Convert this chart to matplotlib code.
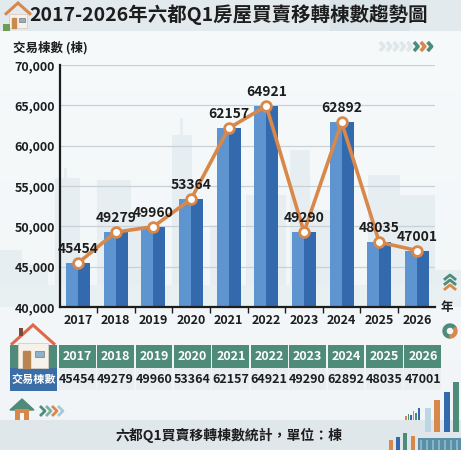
import matplotlib.pyplot as plt
from matplotlib.patches import Rectangle, Polygon, Wedge
from matplotlib.ticker import FuncFormatter, FixedLocator
import numpy as np

# --- données ---
years = ['2017', '2018', '2019', '2020', '2021', '2022', '2023', '2024', '2025', '2026']
counts = [45454, 49279, 49960, 53364, 62157, 64921, 49290, 62892, 48035, 47001]
y_ticks = [40000, 45000, 50000, 55000, 60000, 65000, 70000]

title = '2017-2026年六都Q1房屋買賣移轉棟數趨勢圖'
y_title = '交易棟數 (棟)'
x_unit = '年'
row_label = '交易棟數'
footer = '六都Q1買賣移轉棟數統計，單位：棟'

# couleurs
bar_light = '#5e95d0'
bar_dark = '#336aae'
orange = '#d8884a'
green = '#4e8c79'
blue_cell = '#3b6ea6'
txt = '#1d1d1d'
fam = ['Noto Sans CJK TC', 'DejaVu Sans']
plt.rcParams['font.family'] = fam

W, H = 461, 450
fig = plt.figure(figsize=(W / 100, H / 100), dpi=100)

# --- fond (coordonnées en pixels) ---
bg = fig.add_axes([0, 0, 1, 1], zorder=0)
bg.set_xlim(0, W)
bg.set_ylim(H, 0)
bg.axis('off')
grad = np.linspace(0, 1, 200).reshape(-1, 1)
bg.imshow(grad, cmap=plt.matplotlib.colors.LinearSegmentedColormap.from_list('g', ['#f7fafb', '#f1f5f7']),
          extent=[0, W, H, 0], aspect='auto', zorder=0)

# silhouettes de la ville
sky = '#e6eef1'
buildings = [(0, 250, 22), (18, 265, 30), (55, 178, 25), (97, 180, 34), (130, 215, 20),
             (172, 135, 20), (210, 225, 25), (246, 195, 40), (290, 150, 20), (305, 210, 30),
             (333, 250, 20), (368, 175, 32), (400, 195, 35), (435, 270, 26)]
for bx, by, bw in buildings:
    bg.add_patch(Rectangle((bx, by), bw, 307 - by, color=sky, zorder=1, lw=0))
bg.add_patch(Rectangle((180, 118), 3, 20, color=sky, zorder=1, lw=0))
bg.add_patch(Rectangle((64, 168), 3, 12, color=sky, zorder=1, lw=0))
bg.add_patch(Rectangle((0, 285), W, 22, color='#e8f0f1', zorder=1, lw=0))

# bandeau titre
bg.add_patch(Rectangle((0, 0), W, 31, color='#e3eaee', zorder=2, lw=0))
bg.add_patch(Rectangle((330, 0), 80, 31, color='#d9e3e8', zorder=2, lw=0))
bg.text(229, 15, title, ha='center', va='center', fontsize=14, fontweight='bold',
        color=txt, zorder=5)

def maison(x0, y0, s, roof=orange, door='#c98a4b', zorder=5):
    # petite maison dessinée: toit, murs, porte, fenêtre
    bg.add_patch(Polygon([(x0, y0 + 0.45 * s), (x0 + 0.5 * s, y0), (x0 + s, y0 + 0.45 * s)],
                         closed=False, fill=False, ec=roof, lw=2.2, zorder=zorder))
    bg.add_patch(Rectangle((x0 + 0.15 * s, y0 + 0.42 * s), 0.7 * s, 0.55 * s, color='#f6f1ea',
                           ec='#d8cfc4', lw=0.6, zorder=zorder - 1))
    bg.add_patch(Rectangle((x0 + 0.28 * s, y0 + 0.58 * s), 0.16 * s, 0.39 * s, color=door, zorder=zorder))
    bg.add_patch(Rectangle((x0 + 0.55 * s, y0 + 0.58 * s), 0.2 * s, 0.15 * s, color='#8fb0c9',
                           ec='#777777', lw=0.5, zorder=zorder))

maison(5, 3, 26)
bg.add_patch(Rectangle((3, 24), 7, 7, color='#6a9e58', zorder=4, lw=0))

# chevrons en haut à droite
chev_cols = ['#dfe7ea'] * 5 + [green, orange, green]
for i, c in enumerate(chev_cols):
    cx = 380 + i * 6.8
    bg.plot([cx, cx + 4, cx], [42, 46.5, 51], color=c, lw=2.6, solid_capstyle='butt', zorder=5)

# chevrons vers le haut (droite)
for i, c in enumerate([green, green, orange]):
    cy = 155 + i * 5 + 120
    bg.plot([445, 450, 455], [cy + 4, cy, cy + 4], color=c, lw=2, zorder=5)
bg.add_patch(Wedge((450, 331), 7, 90, 330, width=3, color=green, zorder=5))
bg.add_patch(Wedge((450, 331), 7, 330, 450, width=3, color=orange, zorder=5))

# --- graphique principal ---
ax = fig.add_axes([60 / W, 1 - 307 / H, 375 / W, 242 / H], zorder=2)
ax.patch.set_alpha(0)
x = np.arange(len(years))
ax.bar(x, counts, width=0.64, color=bar_light, zorder=2)
ax.bar(x + 0.16, counts, width=0.32, color=bar_dark, zorder=2)
ax.plot(x, counts, color=orange, lw=2.6, marker='o', ms=7, mfc='white', mec=orange,
        mew=2, zorder=3)
for i, v in enumerate(counts):
    ax.annotate(str(v), (i, v), xytext=(0, 5), textcoords='offset points', ha='center',
                va='bottom', fontsize=10, fontweight='bold', color=txt, zorder=4)

ax.set_xlim(-0.48, len(years) - 0.52)
ax.set_ylim(40000, 70000)
ax.set_yticks(y_ticks)
ax.yaxis.set_major_formatter(FuncFormatter(lambda v, p: f'{int(v):,}'))
ax.set_xticks(x)
ax.set_xticklabels(years)
ax.xaxis.set_minor_locator(FixedLocator(x[:-1] + 0.5))
ax.tick_params(axis='both', which='major', length=0, labelsize=9, labelcolor=txt)
ax.tick_params(axis='x', which='major', pad=5)
ax.tick_params(axis='x', which='minor', length=4, width=1, color=txt, direction='out')
for lab in ax.get_xticklabels() + ax.get_yticklabels():
    lab.set_fontweight('bold')
ax.grid(axis='y', color='#c9d1d6', lw=0.9, zorder=0)
ax.set_axisbelow(True)
for s in ['top', 'right']:
    ax.spines[s].set_visible(False)
for s in ['left', 'bottom']:
    ax.spines[s].set_color(txt)
    ax.spines[s].set_linewidth(1.6)
    ax.spines[s].set_zorder(5)

bg.text(13, 48, y_title, ha='left', va='center', fontsize=9, fontweight='bold', color=txt, zorder=5)
bg.text(447, 307, x_unit, ha='center', va='center', fontsize=9, fontweight='bold', color=txt, zorder=5)

# --- tableau ---
col0, colw = 58, 38.4
r1, r2, r3 = 345, 367.5, 391
bg.add_patch(Rectangle((10, r1), 47, r2 - r1, color=green, zorder=3, lw=0))
bg.add_patch(Rectangle((10, r2), 47, r3 - r2, color=blue_cell, zorder=3, lw=0))
bg.text(33.5, (r2 + r3) / 2, row_label, ha='center', va='center', fontsize=8,
        fontweight='bold', color='white', zorder=5)
for i, (yr, v) in enumerate(zip(years, counts)):
    cx = col0 + i * colw
    bg.add_patch(Rectangle((cx + 0.8, r1), colw - 1.6, r2 - r1, color=green, zorder=3, lw=0))
    bg.add_patch(Rectangle((cx + 0.8, r2 + 0.8), colw - 1.6, r3 - r2 - 1.6, color='#eaeef1',
                           zorder=3, lw=0))
    bg.text(cx + colw / 2, (r1 + r2) / 2, yr, ha='center', va='center', fontsize=9,
            fontweight='bold', color='white', zorder=5)
    bg.text(cx + colw / 2, (r2 + r3) / 2, str(v), ha='center', va='center', fontsize=9,
            fontweight='bold', color=txt, zorder=5)
maison(11, 325, 44, roof='#e0684a', door='#b98550', zorder=6)
bg.add_patch(Rectangle((19, 328), 4, 8, color='#7a4a3a', zorder=6, lw=0))

# maison + chevrons en bas à gauche
bg.add_patch(Polygon([(10, 410), (22, 399), (34, 410)], color=green, zorder=5))
bg.add_patch(Rectangle((15, 409), 14, 11, color=orange, zorder=5, lw=0))
bg.add_patch(Rectangle((20, 413), 4, 7, color='#f5f8f9', zorder=6, lw=0))
for i, c in enumerate([green, '#7fb0a6', orange, '#a8c8d8']):
    cx = 41 + i * 6
    bg.plot([cx, cx + 4, cx], [407, 411, 415], color=c, lw=2, zorder=5)

# bandeau bas
bg.add_patch(Rectangle((0, 420), W, 30, color='#dfe7eb', zorder=2, lw=0))
bg.text(229, 435, footer, ha='center', va='center', fontsize=10, fontweight='bold',
        color=txt, zorder=5)

# petites barres décoratives en bas à droite
deco = [(425, 408, '#bcd6e2'), (434, 400, orange), (444, 392, bar_dark), (453, 382, green)]
for bx, top, c in deco:
    bg.add_patch(Rectangle((bx, top), 5.5, 432 - top, color=c, zorder=4, lw=0))
for i, hgt in enumerate([4, 6, 5, 9, 7, 12]):
    bg.add_patch(Rectangle((405 + i * 2.6, 420 - hgt), 1.6, hgt,
                           color=[orange, green, bar_dark][i % 3], zorder=4, lw=0))
for i, (bx, hgt, c) in enumerate([(389, 10, orange), (396, 13, bar_dark), (403, 17, green), (411, 14, orange)]):
    bg.add_patch(Rectangle((bx, 450 - hgt), 4, hgt, color=c, zorder=4, lw=0))
bg.add_patch(Rectangle((418, 438), 43, 12, color='#5a8fa8', zorder=4, lw=0))
for i in range(7):
    bg.add_patch(Rectangle((420 + i * 6, 440), 2, 10, color='#87b5c6', zorder=5, lw=0))

fig.savefig('out.png', dpi=100)
